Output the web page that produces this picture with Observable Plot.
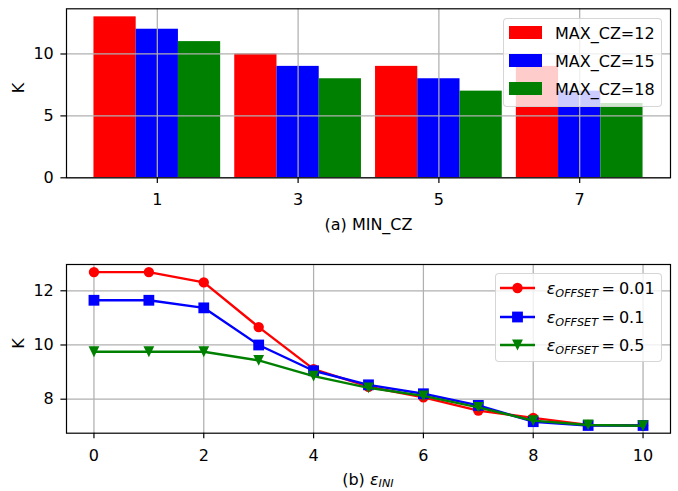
<!DOCTYPE html>
<html><head><meta charset="utf-8">
<script src="https://cdn.jsdelivr.net/npm/d3@7"></script>
<script src="https://cdn.jsdelivr.net/npm/@observablehq/plot@0.6"></script>
<style>
body{margin:0;background:#fff;font-family:"DejaVu Sans",sans-serif;}
#wrap{position:relative;width:678px;height:491px;overflow:hidden;background:#fff;}
#wrap svg{display:block;}
.legend{position:absolute;background:rgba(255,255,255,0.8);border:1px solid rgba(204,204,204,0.8);border-radius:4px;box-sizing:border-box;font-size:16px;color:#000;}
.row{position:absolute;left:0;width:100%;height:20px;}
.txt{position:absolute;top:1px;line-height:20px;white-space:nowrap;}
.sw{position:absolute;}
.sub{font-style:italic;font-size:11.2px;position:relative;top:3px;}
</style></head><body><div id="wrap"></div>
<script>
// ---- data: panel (a) ----
const minCZ = [1, 3, 5, 7];
const maxCZLabels = ["MAX_CZ=12", "MAX_CZ=15", "MAX_CZ=18"];
const kMax12 = [13, 10, 9, 9];
const kMax15 = [12, 9, 8, 7];
const kMax18 = [11, 8, 7, 6];
const barColors = ["#ff0000", "#0000ff", "#008000"];
const yTicksA = [0, 5, 10];

// ---- data: panel (b) ----
const epsIni = [0, 1, 2, 3, 4, 5, 6, 7, 8, 9, 10];
const offsetLabels = ["0.01", "0.1", "0.5"];
const kOff001 = [12.69, 12.69, 12.31, 10.66, 9.11, 8.46, 8.07, 7.58, 7.31, 7.05, 7.03];
const kOff01  = [11.65, 11.65, 11.37, 10.00, 9.05, 8.53, 8.20, 7.77, 7.17, 7.03, 7.03];
const kOff05  = [9.75, 9.75, 9.75, 9.43, 8.85, 8.42, 8.12, 7.70, 7.21, 7.05, 7.02];
const lineColors = ["#ff0000", "#0000ff", "#008000"];
const xTicksB = [0, 2, 4, 6, 8, 10];
const yTicksB = [8, 10, 12];

// ---- build tables ----
const barSeries = [kMax12, kMax15, kMax18];
const barWidth = 0.6;
const bars = [];
barSeries.forEach((vals, i) => vals.forEach((v, j) => bars.push({
  c: minCZ[j], s: maxCZLabels[i], k: v, off: (i - 1) * barWidth
})));

const lineSeries = [kOff001, kOff01, kOff05];
const pts = [];
lineSeries.forEach((vals, i) => vals.forEach((v, j) => pts.push({e: epsIni[j], k: v, s: offsetLabels[i]})));

// custom marker symbols (matplotlib-like)
const symSquare = {draw(ctx, size) {const h = Math.sqrt(size / Math.PI); ctx.moveTo(-h, -h); ctx.lineTo(h, -h); ctx.lineTo(h, h); ctx.lineTo(-h, h); ctx.closePath();}};
const symTriDown = {draw(ctx, size) {const h = Math.sqrt(size / Math.PI); ctx.moveTo(0, h); ctx.lineTo(-h, -h); ctx.lineTo(h, -h); ctx.closePath();}};
const symbols = ["circle", symSquare, symTriDown];
const symR = [5.2, 5.4, 5.4];

const FONT = {fontFamily: "DejaVu Sans", fontSize: "16px", color: "#000", background: "#fff", overflow: "visible"};
const gridStyle = {stroke: "#b0b0b0", strokeOpacity: 1, strokeWidth: 1.25};

// ---- panel (a) ----
const H1 = 245;
const chartA = Plot.plot({
  width: 678, height: H1,
  marginLeft: 66, marginRight: 8, marginTop: 8.3, marginBottom: H1 - 177.3,
  style: FONT,
  x: {type: "linear", domain: [-0.29, 8.29]},
  y: {domain: [0, 13.65]},
  color: {domain: maxCZLabels, range: barColors},
  marks: [
    Plot.rectY(bars, {x1: d => d.c + d.off - barWidth / 2, x2: d => d.c + d.off + barWidth / 2, y1: 0, y2: "k", fill: "s"}),
    Plot.gridX({ticks: minCZ, ...gridStyle}),
    Plot.gridY({ticks: yTicksA, ...gridStyle}),
    Plot.frame({stroke: "#000", strokeWidth: 1.2}),
    Plot.axisX({ticks: minCZ, tickSize: 5.6, tickPadding: 10.7, tickFormat: d => String(d), label: null, strokeWidth: 1.2}),
    Plot.axisY({ticks: yTicksA, tickSize: 5.6, tickPadding: 7.1, tickFormat: d => String(d), label: null, strokeWidth: 1.2}),
    Plot.text(["K"], {frameAnchor: "left", dx: -47.7, rotate: -90, lineAnchor: "middle", fontSize: 16}),
    Plot.text(["(a) MIN_CZ"], {frameAnchor: "bottom", dy: 52.2, lineAnchor: "bottom", fontSize: 16})
  ]
});

// ---- panel (b) ----
const H2 = 246;
const lineMarks = [];
offsetLabels.forEach((lab, i) => {
  const sub = pts.filter(d => d.s === lab);
  lineMarks.push(Plot.line(sub, {x: "e", y: "k", stroke: lineColors[i], strokeWidth: 2.4}));
  lineMarks.push(Plot.dot(sub, {x: "e", y: "k", symbol: symbols[i], r: symR[i], fill: lineColors[i], stroke: "none"}));
});
const chartB = Plot.plot({
  width: 678, height: H2,
  marginLeft: 66, marginRight: 8, marginTop: 264 - H1, marginBottom: H2 - (432.7 - H1),
  style: FONT,
  x: {domain: [-0.5, 10.5]},
  y: {domain: [6.745, 12.97]},
  marks: [
    Plot.gridX({ticks: xTicksB, ...gridStyle}),
    Plot.gridY({ticks: yTicksB, ...gridStyle}),
    ...lineMarks,
    Plot.frame({stroke: "#000", strokeWidth: 1.2}),
    Plot.axisX({ticks: xTicksB, tickSize: 5.6, tickPadding: 10.7, tickFormat: d => String(d), label: null, strokeWidth: 1.2}),
    Plot.axisY({ticks: yTicksB, tickSize: 5.6, tickPadding: 7.1, tickFormat: d => String(d), label: null, strokeWidth: 1.2}),
    Plot.text(["K"], {frameAnchor: "left", dx: -47.7, rotate: -90, lineAnchor: "middle", fontSize: 16}),
    Plot.text(["(b) "], {frameAnchor: "bottom", dx: -26.3, dy: 51.3, textAnchor: "start", lineAnchor: "bottom", fontSize: 16, className: "xlabb"})
  ]
});

// rich text for the (b) label: (b) ε_INI
d3.select(chartB).selectAll(".xlabb text").each(function () {
  const t = d3.select(this);
  t.text(null);
  t.append("tspan").text("(b) ");
  t.append("tspan").attr("font-style", "italic").text("ε");
  t.append("tspan").attr("font-style", "italic").attr("font-size", "11.2px").attr("dy", "2.5").text("INI");
});

const wrap = document.getElementById("wrap");
wrap.appendChild(chartA);
wrap.appendChild(chartB);

// ---- legend (a) ----
const legA = document.createElement("div");
legA.className = "legend";
Object.assign(legA.style, {left: "503px", top: "17.5px", width: "158.5px", height: "89px"});
const rowCentersA = [14.2, 42.2, 70.0];
maxCZLabels.forEach((lab, i) => {
  const row = document.createElement("div");
  row.className = "row";
  row.style.top = (rowCentersA[i] - 10) + "px";
  row.innerHTML = `<div class="sw" style="left:5px;top:3.3px;width:33px;height:13.4px;background:${barColors[i]}"></div><div class="txt" style="left:51px">${lab}</div>`;
  legA.appendChild(row);
});
wrap.appendChild(legA);

// ---- legend (b) ----
const legB = document.createElement("div");
legB.className = "legend";
Object.assign(legB.style, {left: "495px", top: "273.3px", width: "166.7px", height: "88.4px"});
const rowCentersB = [14.0, 42.4, 70.7];
const markerSvg = (i) => {
  const c = lineColors[i], r = symR[i];
  let m;
  if (i === 0) m = `<circle cx="17.5" cy="10" r="${r}" fill="${c}"/>`;
  else if (i === 1) m = `<rect x="${17.5 - r}" y="${10 - r}" width="${2 * r}" height="${2 * r}" fill="${c}"/>`;
  else m = `<path d="M17.5,${10 + r}L${17.5 - r},${10 - r}L${17.5 + r},${10 - r}Z" fill="${c}"/>`;
  return `<svg class="sw" style="left:4px;top:0" width="35" height="20"><line x1="0" y1="10" x2="35" y2="10" stroke="${c}" stroke-width="2.4"/>${m}</svg>`;
};
offsetLabels.forEach((lab, i) => {
  const row = document.createElement("div");
  row.className = "row";
  row.style.top = (rowCentersB[i] - 10) + "px";
  row.innerHTML = markerSvg(i) + `<div class="txt" style="left:50.7px"><i>ε</i><span class="sub">OFFSET</span><span style="margin-left:3.5px">=</span><span style="margin-left:4px">${lab}</span></div>`;
  legB.appendChild(row);
});
wrap.appendChild(legB);
</script>
</body></html>
